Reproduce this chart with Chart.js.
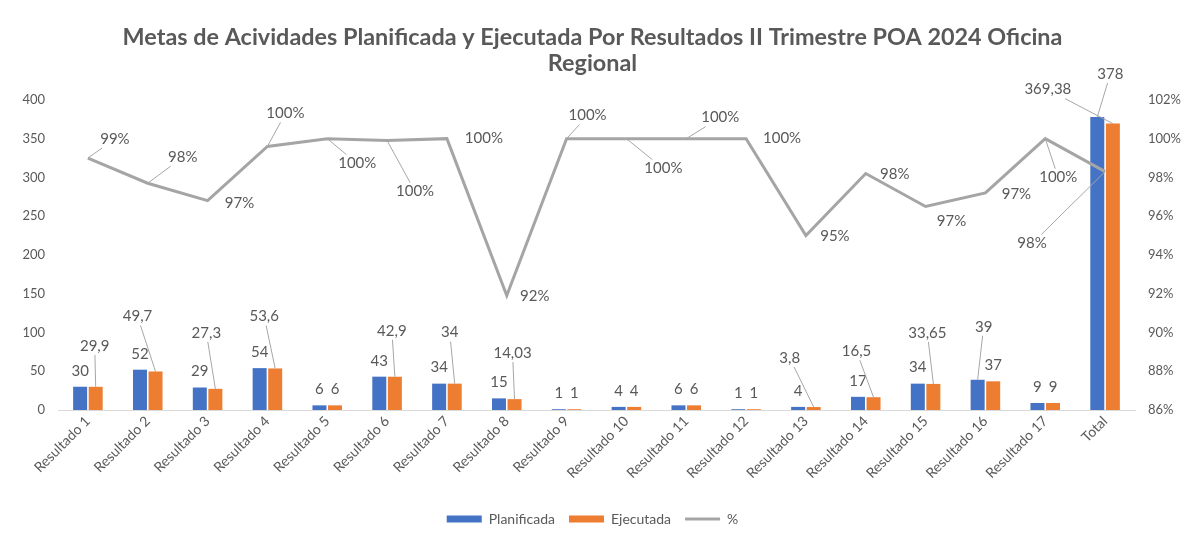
<!DOCTYPE html>
<html>
<head>
<meta charset="utf-8">
<script src="https://cdn.jsdelivr.net/npm/chart.js@4.4.1/dist/chart.umd.min.js"></script>
<style>
  html, body { margin: 0; padding: 0; background: #fff; }
  #wrap { width: 1185px; height: 539px; position: relative; }
</style>
</head>
<body>
<div id="wrap"><canvas id="poaChart"></canvas></div>
<script>
const categories = ['Resultado 1', 'Resultado 2', 'Resultado 3', 'Resultado 4', 'Resultado 5', 'Resultado 6',
    'Resultado 7', 'Resultado 8', 'Resultado 9', 'Resultado 10', 'Resultado 11', 'Resultado 12',
    'Resultado 13', 'Resultado 14', 'Resultado 15', 'Resultado 16', 'Resultado 17', 'Total'];
const planificada = [30, 52, 29, 54, 6, 43, 34, 15, 1, 4, 6, 1, 4, 17, 34, 39, 9, 378];
const ejecutada = [29.9, 49.7, 27.3, 53.6, 6, 42.9, 34, 14.03, 1, 4, 6, 1, 3.8, 16.5, 33.65, 37, 9, 369.38];
const porcentaje = [99, 97.7, 96.8, 99.6, 100, 99.9, 100, 91.9, 100, 100, 100, 100, 95, 98.2, 96.5, 97.2, 100, 98.3];

const chartTitle = ['Metas de Acividades Planificada y Ejecutada Por Resultados II Trimestre POA 2024 Oficina', 'Regional'];

Chart.defaults.font.family = 'Lato';
Chart.defaults.color = '#595959';

// label placement, [dx, lift above bar top] -- only the ones Excel moved
const planLabelPos = { 15: [6, 53], 17: [13, 43] };
const ejecLabelPos = { 0: [-1, 41], 1: [-18, 55], 2: [-9, 56], 3: [-11, 52], 5: [-3, 46], 6: [-5, 51],
    7: [-2, 46], 12: [-24, 49], 13: [-17, 46], 14: [-6, 51], 17: [-65, 34] };
// percent label offsets [dx, dy] from the point
const pctLabelPos = [[27, -19], [35, -26], [32, 2], [18, -33], [30, 25], [28, 51], [37, 0], [28, 1], [21, -23],
    [37, 30], [34, -21], [36, 0], [29, 1], [29, 1], [26, 15], [31, 1], [13, 39], [-73, 72]];

function fmt(v) {
    return String(v).replace('.', ',');
}

const labelPlugin = {
    id: 'valueLabels',
    afterDatasetsDraw(chart) {
        const ctx = chart.ctx;
        ctx.save();
        ctx.font = '15px Lato';
        ctx.fillStyle = '#595959';
        ctx.strokeStyle = '#a6a6a6';
        ctx.lineWidth = 1;
        ctx.textAlign = 'center';
        ctx.textBaseline = 'middle';

        const put = (text, px, py, cx, cy, leader) => {
            if (leader) {
                const w = ctx.measureText(text).width / 2 + 3, h = 9;
                const dx = px - cx, dy = py - cy;
                const s = Math.min(dx ? w / Math.abs(dx) : Infinity, dy ? h / Math.abs(dy) : Infinity);
                ctx.beginPath();
                ctx.moveTo(cx + dx * s, cy + dy * s);
                ctx.lineTo(px, py);
                ctx.stroke();
            }
            ctx.fillText(text, cx, cy);
        };

        const barSets = [[0, planificada, planLabelPos], [1, ejecutada, ejecLabelPos]];
        barSets.forEach(([di, values, pos]) => {
            chart.getDatasetMeta(di).data.forEach((bar, i) => {
                const [dx, lift] = pos[i] || [0, 16];
                put(fmt(values[i]), bar.x, bar.y, bar.x + dx, bar.y - lift, lift > 25);
            });
        });

        chart.getDatasetMeta(2).data.forEach((pt, i) => {
            const [dx, dy] = pctLabelPos[i];
            put(Math.round(porcentaje[i]) + '%', pt.x, pt.y, pt.x + dx, pt.y + dy, Math.abs(dy) > 18);
        });
        ctx.restore();
    }
};

const chartConfig = {
    type: 'bar',
    data: {
        labels: categories,
        datasets: [
            {
                label: 'Planificada',
                data: planificada,
                backgroundColor: '#4472C4',
                pointStyle: 'rect',
                yAxisID: 'y',
                order: 1,
                categoryPercentage: 0.52,
                barPercentage: 0.9
            },
            {
                label: 'Ejecutada',
                data: ejecutada,
                backgroundColor: '#ED7D31',
                pointStyle: 'rect',
                yAxisID: 'y',
                order: 1,
                categoryPercentage: 0.52,
                barPercentage: 0.9
            },
            {
                type: 'line',
                label: '%',
                data: porcentaje,
                borderColor: '#A5A5A5',
                backgroundColor: '#A5A5A5',
                borderWidth: 3,
                pointRadius: 0,
                pointStyle: 'line',
                tension: 0,
                yAxisID: 'y1',
                order: 0
            }
        ]
    },
    options: {
        responsive: true,
        maintainAspectRatio: false,
        animation: false,
        layout: { padding: { top: 24, bottom: 3, left: 0, right: 0 } },
        plugins: {
            title: {
                display: true,
                text: chartTitle,
                color: '#595959',
                font: { size: 23.4, weight: 'bold', lineHeight: 1.13 },
                padding: { top: 0, bottom: 23 }
            },
            legend: {
                position: 'bottom',
                labels: {
                    usePointStyle: true,
                    pointStyleWidth: 35,
                    boxHeight: 7,
                    color: '#595959',
                    font: { size: 14 },
                    padding: 14,
                    sort: (a, b) => a.datasetIndex - b.datasetIndex
                }
            },
            tooltip: { enabled: false }
        },
        scales: {
            x: {
                grid: { display: false, drawTicks: false },
                border: { color: '#d9d9d9', dash: [2, 2] },
                ticks: { color: '#595959', font: { size: 14 }, minRotation: 45, maxRotation: 45, padding: 3 },
                afterFit(scale) { scale.height = 88; }
            },
            y: {
                position: 'left',
                min: 0,
                max: 400,
                ticks: { stepSize: 50, color: '#595959', font: { size: 13 }, padding: 13 },
                grid: { display: false, drawTicks: false },
                border: { display: false },
                afterFit(scale) { scale.width = 58; }
            },
            y1: {
                position: 'right',
                min: 86,
                max: 102,
                ticks: { stepSize: 2, color: '#595959', font: { size: 13 }, padding: 13,
                    callback: v => v + '%' },
                grid: { display: false, drawTicks: false },
                border: { display: false },
                afterFit(scale) { scale.width = 50; }
            }
        }
    },
    plugins: [labelPlugin]
};

let chartID = document.getElementById('poaChart');
let chart = new Chart(chartID, chartConfig);
</script>
</body>
</html>
